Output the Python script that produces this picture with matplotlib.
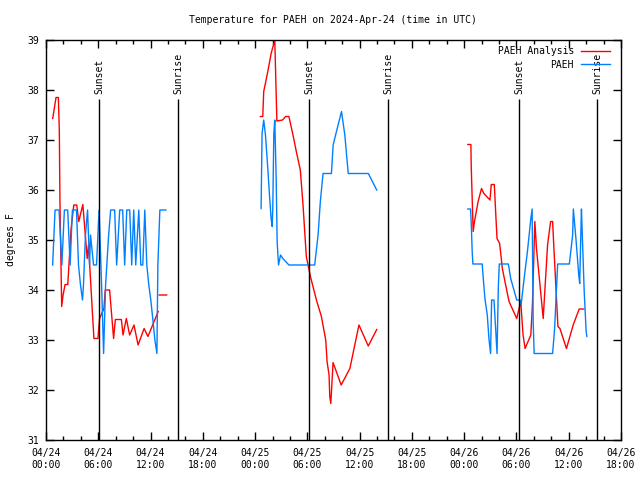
import numpy as np
import matplotlib
matplotlib.use('Agg')
import matplotlib.pyplot as plt
from matplotlib.ticker import FixedLocator, MultipleLocator

# hours since 04/24 00:00 UTC, nan = gap in the record
analysis_hours = [0.77, 1.15, 1.42, 1.53, 1.60, 1.80, 1.96, 2.19, 2.50, 2.88, 3.19, 3.53, 3.76, 4.23,
                  4.73, 4.88, 5.50, 5.96, 6.15, 6.65, 6.80, 7.30, 7.76, 7.96, 8.65, 8.84, 9.22, 9.60,
                  10.10, 10.57, 11.26, 11.70, 12.88, np.nan, 13.00, 13.85, np.nan,
                  24.61, 24.88, 24.99, 25.46, 25.84, 26.26, 26.50, 27.15, 27.50, 27.88, 28.35, 28.73,
                  29.19, 29.49, 29.88, 30.35, 31.04, 31.61, 32.11, 32.26, 32.49, 32.57, 32.69, 32.95,
                  33.88, 34.88, 35.92, 36.99, 37.96, np.nan,
                  48.42, 48.77, 48.81, 49.03, 49.18, 49.60, 49.99, 50.26, 50.96, 51.11, 51.46, 51.61,
                  51.77, 52.07, 52.38, 52.76, 53.15, 54.03, 54.30, 54.49, 54.76, 54.99, 55.65, 55.84,
                  56.11, 56.30, 57.07, 57.57, 57.92, 58.15, 58.30, 58.76, 58.99, 59.74, 60.51, 61.20,
                  61.74]
analysis_temps = [37.43, 37.85, 37.85, 37.17, 35.77, 33.67, 33.90, 34.11, 34.11, 35.23, 35.70, 35.70, 35.37, 35.71,
                  34.63, 34.90, 33.03, 33.03, 33.43, 33.63, 34.00, 34.00, 33.03, 33.41, 33.41, 33.10, 33.43, 33.10,
                  33.30, 32.90, 33.23, 33.07, 33.57, np.nan, 33.90, 33.90, np.nan,
                  37.47, 37.47, 37.97, 38.37, 38.73, 39.00, 37.38, 37.40, 37.47, 37.47, 37.10, 36.77,
                  36.40, 35.73, 34.67, 34.27, 33.80, 33.47, 33.00, 32.57, 32.30, 31.87, 31.73, 32.55,
                  32.10, 32.43, 33.30, 32.88, 33.21, np.nan,
                  36.91, 36.91, 36.47, 35.17, 35.37, 35.77, 36.03, 35.93, 35.80, 36.11, 36.11, 35.57,
                  35.03, 34.93, 34.43, 34.10, 33.77, 33.43, 33.63, 33.77, 33.10, 32.83, 33.10, 33.73,
                  35.37, 34.83, 33.43, 34.90, 35.37, 35.37, 34.83, 33.27, 33.23, 32.83, 33.30, 33.62,
                  33.62]

obs_hours = [0.76, 1.04, 1.50, 1.82, 2.11, 2.49, 2.77, 3.03, 3.50, 3.73, 3.96, 4.19, 4.30, 4.53,
             4.77, 5.00, 5.11, 5.46, 5.80, 6.09, 6.38, 6.61, 6.84, 7.19, 7.42, 7.88, 8.11, 8.46,
             8.80, 9.03, 9.27, 9.61, 9.84, 10.07, 10.30, 10.65, 10.88, 11.11, 11.34, 11.57, 11.80,
             12.03, 12.27, 12.50, 12.73, 12.84, 13.07, 13.76, np.nan,
             24.69, 24.80, 24.99, 25.19, 25.46, 25.65, 25.84, 25.96, 26.03, 26.15, 26.26, 26.42,
             26.53, 26.69, 26.92, 27.19, 27.88, 30.84, 31.23, 31.49, 31.80, 32.76, 32.96, 33.34,
             33.92, 34.30, 34.69, 37.00, 37.96, np.nan,
             48.42, 48.73, 48.81, 48.92, 49.00, 50.07, 50.19, 50.38, 50.65, 50.84, 51.03, 51.15,
             51.42, 51.61, 51.77, 51.92, 52.03, 53.07, 53.34, 54.03, 54.42, 54.53, 54.88, 55.26,
             55.65, 55.80, 55.92, 56.03, 58.15, 58.38, 58.73, 60.07, 60.45, 60.53, 60.84, 61.15,
             61.26, 61.42, 61.46, 61.54, 61.77, 62.00, 62.08]
obs_temps = [34.5, 35.6, 35.6, 34.5, 35.6, 35.6, 34.5, 35.6, 35.6, 34.5, 34.1, 33.8, 34.1, 35.1,
             35.6, 34.5, 35.1, 34.5, 34.5, 35.6, 34.1, 32.73, 34.1, 35.1, 35.6, 35.6, 34.5, 35.6,
             35.6, 34.5, 35.6, 35.6, 34.5, 35.6, 34.5, 35.6, 34.5, 34.5, 35.6, 34.5, 34.1,
             33.8, 33.4, 33.0, 32.73, 34.5, 35.6, 35.6, np.nan,
             35.63, 37.13, 37.40, 37.10, 36.43, 35.90, 35.43, 35.27, 35.63, 37.13, 37.40, 36.23,
             34.97, 34.50, 34.70, 34.63, 34.50, 34.50, 35.10, 35.77, 36.33, 36.33, 36.90, 37.17,
             37.57, 37.10, 36.33, 36.33, 36.00, np.nan,
             35.62, 35.62, 35.33, 34.77, 34.52, 34.52, 34.23, 33.83, 33.50, 33.03, 32.73, 33.80,
             33.80, 33.23, 32.73, 34.07, 34.52, 34.52, 34.23, 33.80, 33.80, 33.70, 34.23, 34.77,
             35.43, 35.62, 33.37, 32.73, 32.73, 33.23, 34.52, 34.52, 35.10, 35.62, 35.00, 34.30,
             34.13, 35.35, 35.62, 35.20, 34.00, 33.17, 33.07]

sun_hours = [6.1, 15.2, 30.2, 39.25, 54.3, 63.3]
sun_labels = ['Sunset', 'Sunrise', 'Sunset', 'Sunrise', 'Sunset', 'Sunrise']

x_ticks = [0, 6, 12, 18, 24, 30, 36, 42, 48, 54, 60, 66]
x_ticklabels = ['04/24\n00:00', '04/24\n06:00', '04/24\n12:00', '04/24\n18:00',
                '04/25\n00:00', '04/25\n06:00', '04/25\n12:00', '04/25\n18:00',
                '04/26\n00:00', '04/26\n06:00', '04/26\n12:00', '04/26\n18:00']
y_ticks = [31, 32, 33, 34, 35, 36, 37, 38, 39]

MONO = 'DejaVu Sans Mono'
FS = 7

plt.rcParams['font.family'] = MONO
plt.rcParams['font.size'] = FS

fig = plt.figure(figsize=(6.4, 4.8), dpi=100)
ax = fig.add_axes([46 / 640, 40 / 480, 575 / 640, 400 / 480])

ax.plot(analysis_hours, analysis_temps, color='#ff0000', lw=1.0, label='PAEH Analysis')
ax.plot(obs_hours, obs_temps, color='#0080ff', lw=1.0, label='PAEH')

# sunrise / sunset markers
ax.vlines(sun_hours, 31, 37.82, color='black', lw=1.0, zorder=3)
for h, lab in zip(sun_hours, sun_labels):
    ax.text(h, 37.92, lab, rotation=90, ha='center', va='bottom', fontsize=FS)

ax.set_xlim(0, 66)
ax.set_ylim(31, 39)
ax.xaxis.set_major_locator(FixedLocator(x_ticks))
ax.set_xticklabels(x_ticklabels)
ax.xaxis.set_minor_locator(MultipleLocator(2))
ax.set_yticks(y_ticks)
ax.set_yticklabels([str(v) for v in y_ticks])
ax.tick_params(which='both', direction='in', top=True, right=True, width=1, labelsize=FS)
ax.tick_params(which='major', length=6)
ax.tick_params(which='minor', length=3)
ax.tick_params(axis='x', pad=6)
ax.tick_params(axis='y', pad=5)
for s in ax.spines.values():
    s.set_linewidth(1)

ax.set_ylabel('degrees F', fontsize=FS)
ax.yaxis.set_label_coords(-30 / 575, 0.5)

fig.text(333 / 640, 1 - 20 / 480, 'Temperature for PAEH on 2024-Apr-24 (time in UTC)',
         ha='center', va='center', fontsize=FS)

ax.legend(loc='upper right', bbox_to_anchor=(0.981, 0.984), frameon=False, markerfirst=False,
          handlelength=3.0, handletextpad=0.7, labelspacing=0.35, borderpad=0, borderaxespad=0,
          fontsize=FS)

fig.savefig('out.png', dpi=100)
